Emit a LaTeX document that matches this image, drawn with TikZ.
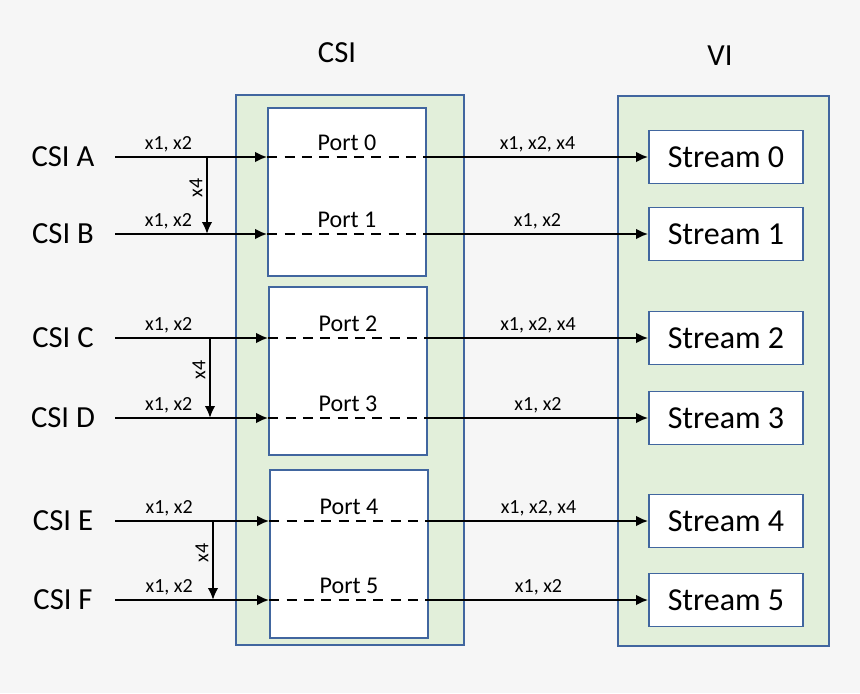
\documentclass[tikz,border=0pt]{standalone}
\usepackage{fontspec}
\setmainfont{Carlito}
\usetikzlibrary{arrows.meta}
\definecolor{bgcol}{HTML}{F6F6F6}
\definecolor{boxfill}{HTML}{E2EFDA}
\definecolor{boxline}{HTML}{41669F}

\begin{document}
\begin{tikzpicture}[x=0.75pt,y=-0.75pt,
  outerbox/.style={draw=boxline,fill=boxfill,line width=1.2pt},
  portbox/.style={draw=boxline,fill=white,line width=1.2pt,minimum width=118.5pt,minimum height=126pt},
  streambox/.style={draw=boxline,fill=white,line width=1.2pt,minimum width=115.5pt,minimum height=39.75pt,font=\fontsize{24}{26}\selectfont},
  csilab/.style={minimum width=78pt,inner sep=0pt,font=\fontsize{23}{26}\selectfont},
  headlab/.style={font=\fontsize{23}{26}\selectfont},
  ratelab/.style={font=\fontsize{15}{17}\selectfont,inner sep=2.5pt},
  portlab/.style={font=\fontsize{18}{20}\selectfont,inner sep=4pt},
  wire/.style={line width=2pt,-{Latex[length=9pt,width=8pt]}},
  portline/.style={line width=2pt,dash pattern=on 7.5pt off 5.5pt}]
% Background and the two big boxes
\fill[bgcol] (0,0) rectangle (860,693);
\draw[outerbox] (236,95) rectangle (464,645);
\draw[outerbox] (618,96) rectangle (829,646);
\node[headlab] (csititle) at (337,53) {CSI};
\node[headlab] (vititle) at (720,56) {VI};
% Port boxes, two ports each
\node[portbox] (pbA) at (347,192) {};
\node[portbox] (pbB) at (348,371) {};
\node[portbox] (pbC) at (349,554) {};
% Inputs on the left, streams on the right
\foreach \n/\p/\y in {A/0/157,B/1/234,C/2/338,D/3/418,E/4/521,F/5/600} {
  \node[csilab] (csi\n) at (63,\y) {CSI \n};
  \node[streambox] (st\p) at (726,\y) {Stream \p};
}
% Then the wires through each port
\foreach \n/\p/\b/\r in {A/0/pbA/{x1, x2, x4},B/1/pbA/{x1, x2},C/2/pbB/{x1, x2, x4},D/3/pbB/{x1, x2},E/4/pbC/{x1, x2, x4},F/5/pbC/{x1, x2}} {
  \draw[wire] (csi\n) -- node[ratelab,pos=0.35,above] {x1, x2} (\b.west |- csi\n);
  \draw[portline] (\b.west |- csi\n) -- node[portlab,above] {Port \p} (\b.east |- csi\n);
  \draw[wire] (\b.east |- csi\n) -- node[ratelab,above] {\r} (st\p);
}
% The x4 links joining two inputs
\coordinate (jA) at (207,157);
\coordinate (jB) at (207,234);
\coordinate (jC) at (210,338);
\coordinate (jD) at (210,418);
\coordinate (jE) at (213,521);
\coordinate (jF) at (213,600);
\foreach \s/\t in {A/B,C/D,E/F}
  \draw[wire] (j\s) -- node[ratelab,pos=0.4,anchor=south,rotate=90] {x4} (j\t);
\end{tikzpicture}
\end{document}
